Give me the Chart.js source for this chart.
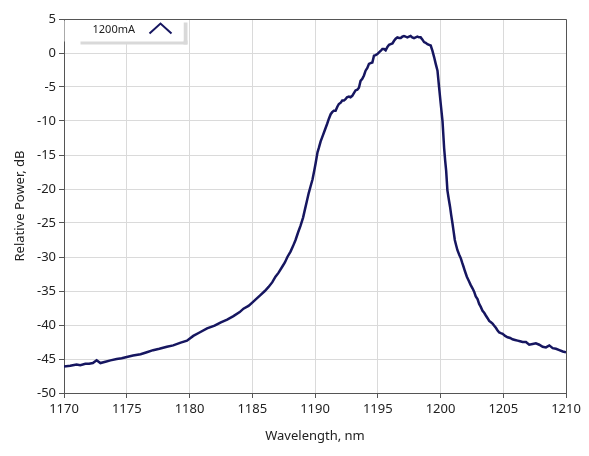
<!DOCTYPE html>
<html>
<head>
<meta charset="utf-8">
<script src="https://cdn.jsdelivr.net/npm/chart.js@4"></script>
<style>
  html, body { margin: 0; padding: 0; background: #fff; }
  #wrap { width: 589px; height: 456px; position: relative; }
</style>
</head>
<body>
<div id="wrap"><canvas id="c" width="589" height="456"></canvas></div>
<script>
const seriesLabel = "1200mA";
const xTitle = "Wavelength, nm";
const yTitle = "Relative Power, dB";
const xTicks = [1170, 1175, 1180, 1185, 1190, 1195, 1200, 1205, 1210];
const yTicks = [-50, -45, -40, -35, -30, -25, -20, -15, -10, -5, 0, 5];

const wavelength = [
  1170.0, 1170.5, 1171.0, 1171.3, 1171.7, 1172.0, 1172.3, 1172.6, 1172.9, 1173.3,
  1173.7, 1174.2, 1174.6, 1175.0, 1175.5, 1176.1, 1176.6, 1177.1, 1177.6, 1178.2,
  1178.7, 1179.3, 1179.8, 1180.3, 1180.8, 1181.4, 1182.0, 1182.5, 1183.0, 1183.5,
  1184.0, 1184.3, 1184.7, 1185.0, 1185.3, 1185.65, 1186.0, 1186.3, 1186.6, 1186.85,
  1187.1, 1187.4, 1187.6, 1187.8, 1188.05, 1188.25, 1188.45, 1188.65, 1188.85, 1189.05,
  1189.2, 1189.35, 1189.5, 1189.65, 1189.8, 1189.95, 1190.05, 1190.2, 1190.3, 1190.45,
  1190.57, 1190.75, 1190.97, 1191.1, 1191.25, 1191.37, 1191.5, 1191.64, 1191.78, 1191.9,
  1192.05, 1192.17, 1192.3, 1192.43, 1192.55, 1192.7, 1192.83, 1192.97, 1193.1, 1193.23,
  1193.37, 1193.5, 1193.63, 1193.77, 1193.9, 1194.03, 1194.17, 1194.3, 1194.43, 1194.57,
  1194.7, 1194.83, 1194.97, 1195.1, 1195.23, 1195.37, 1195.5, 1195.63, 1195.77, 1195.9,
  1196.03, 1196.17, 1196.3, 1196.43, 1196.56, 1196.7, 1196.83, 1196.96, 1197.09, 1197.22,
  1197.36, 1197.49, 1197.62, 1197.75, 1197.89, 1198.02, 1198.16, 1198.29, 1198.42, 1198.55,
  1198.69, 1198.82, 1198.96, 1199.09, 1199.22, 1199.36, 1199.49, 1199.62, 1199.76, 1199.89,
  1200.02, 1200.16, 1200.29, 1200.37, 1200.45, 1200.55, 1200.65, 1200.76, 1200.85, 1200.95,
  1201.05, 1201.14, 1201.25, 1201.35, 1201.5, 1201.62, 1201.72, 1201.83, 1201.95, 1202.1,
  1202.25, 1202.4, 1202.55, 1202.68, 1202.81, 1202.95, 1203.08, 1203.2, 1203.35, 1203.48,
  1203.61, 1203.75, 1203.88, 1204.02, 1204.15, 1204.28, 1204.41, 1204.55, 1204.68, 1204.81,
  1204.95, 1205.15, 1205.35, 1205.55, 1205.74, 1205.94, 1206.14, 1206.34, 1206.54, 1206.81,
  1207.07, 1207.34, 1207.6, 1207.87, 1208.14, 1208.4, 1208.67, 1208.94, 1209.2, 1209.47,
  1209.74, 1210.0
];

const power = [
  -46.1, -46.0, -45.8, -45.9, -45.7, -45.7, -45.6, -45.2, -45.6, -45.4,
  -45.2, -45.0, -44.9, -44.7, -44.5, -44.3, -44.0, -43.7, -43.5, -43.2,
  -43.0, -42.6, -42.3, -41.6, -41.1, -40.5, -40.1, -39.6, -39.2, -38.7,
  -38.1, -37.6, -37.2, -36.7, -36.2, -35.6, -35.0, -34.4, -33.7, -32.9,
  -32.3, -31.4, -30.8, -30.0, -29.2, -28.4, -27.5, -26.4, -25.4, -24.2,
  -23.0, -21.8, -20.6, -19.6, -18.6, -17.2, -16.2, -14.6, -14.0, -13.0,
  -12.4, -11.5, -10.4, -9.7, -9.0, -8.7, -8.5, -8.5, -7.9, -7.5,
  -7.3, -7.0, -7.0, -6.8, -6.5, -6.4, -6.5, -6.3, -5.9, -5.5,
  -5.4, -5.1, -4.1, -3.8, -3.3, -2.6, -2.2, -1.6, -1.5, -1.4,
  -0.4, -0.3, -0.15, 0.1, 0.3, 0.6, 0.6, 0.4, 0.9, 1.2,
  1.3, 1.4, 1.8, 2.1, 2.3, 2.2, 2.2, 2.4, 2.5, 2.4,
  2.3, 2.4, 2.5, 2.3, 2.2, 2.3, 2.4, 2.3, 2.3, 2.0,
  1.6, 1.5, 1.3, 1.2, 1.1, 0.3, -0.6, -1.6, -2.6, -5.1,
  -7.5, -10.0, -14.0, -15.8, -17.3, -20.2, -21.4, -22.6, -23.8, -25.0,
  -26.3, -27.5, -28.3, -29.0, -29.7, -30.2, -30.8, -31.4, -32.1, -32.9,
  -33.5, -34.1, -34.6, -35.1, -35.8, -36.2, -36.9, -37.3, -37.9, -38.2,
  -38.6, -39.0, -39.4, -39.6, -39.8, -40.1, -40.4, -40.8, -41.1, -41.2,
  -41.3, -41.6, -41.8, -41.9, -42.1, -42.2, -42.3, -42.4, -42.5, -42.5,
  -42.9, -42.8, -42.7, -42.9, -43.2, -43.3, -43.0, -43.4, -43.5, -43.7,
  -43.9, -44.0
];

const LINE = '#161660';
const FONT = '"Noto Sans", "DejaVu Sans", sans-serif';

const framePlugin = {
  id: 'frame',
  afterDatasetsDraw(chart) {
    const {ctx, chartArea: a} = chart;
    ctx.save();
    ctx.strokeStyle = '#555';
    ctx.lineWidth = 1;
    ctx.beginPath();
    ctx.moveTo(a.left, a.top + 0.5);
    ctx.lineTo(a.right + 0.5, a.top + 0.5);
    ctx.lineTo(a.right + 0.5, a.bottom);
    ctx.stroke();
    // legend box
    const x0 = a.left + 0.5, y0 = a.top + 0.5, w = 119, h = 21;
    ctx.fillStyle = '#d9d9d9';
    ctx.fillRect(x0 + w, y0 + 3, 4, h + 1);
    ctx.fillRect(x0 + 16, y0 + h, w - 12, 4);
    ctx.fillStyle = '#ffffff';
    ctx.fillRect(x0, y0 + 1, w, h);
    ctx.fillStyle = '#222';
    ctx.font = '11px ' + FONT;
    ctx.textBaseline = 'middle';
    ctx.textAlign = 'left';
    ctx.fillText(chart.data.datasets[0].label, x0 + 28, y0 + 10.5);
    ctx.strokeStyle = LINE;
    ctx.lineWidth = 2;
    ctx.beginPath();
    ctx.moveTo(x0 + 85, y0 + 14);
    ctx.lineTo(x0 + 96, y0 + 4);
    ctx.lineTo(x0 + 107, y0 + 14);
    ctx.stroke();
    ctx.restore();
  }
};

new Chart(document.getElementById('c'), {
  type: 'line',
  data: {
    datasets: [{
      label: seriesLabel,
      data: wavelength.map((x, i) => ({x: x, y: power[i]})),
      borderColor: LINE,
      borderWidth: 2.5,
      pointRadius: 0,
      tension: 0,
      fill: false
    }]
  },
  options: {
    responsive: false,
    animation: false,
    events: [],
    layout: { padding: { left: 0, top: 19, right: 23, bottom: 0 } },
    plugins: { legend: { display: false }, tooltip: { enabled: false } },
    scales: {
      x: {
        type: 'linear',
        min: xTicks[0],
        max: xTicks[xTicks.length - 1],
        afterFit(s) { s.height = 63; },
        afterBuildTicks(s) { s.ticks = xTicks.map(v => ({value: v})); },
        ticks: { color: '#222', font: { family: FONT, size: 13 }, padding: 3, maxRotation: 0, autoSkip: false,
                 callback: v => String(v) },
        grid: { color: '#dadada', tickColor: '#555', tickLength: 5, lineWidth: 1 },
        border: { color: '#555', width: 1 },
        title: { display: true, text: xTitle, color: '#222', font: { family: FONT, size: 13 }, padding: { top: 0, bottom: 12 } }
      },
      y: {
        type: 'linear',
        min: yTicks[0],
        max: yTicks[yTicks.length - 1],
        afterFit(s) { s.width = 64; },
        afterBuildTicks(s) { s.ticks = yTicks.map(v => ({value: v})); },
        ticks: { color: '#222', font: { family: FONT, size: 13 }, padding: 3, autoSkip: false,
                 callback: v => String(v) },
        grid: { color: '#dadada', tickColor: '#555', tickLength: 5, lineWidth: 1 },
        border: { color: '#555', width: 1 },
        title: { display: true, text: yTitle, color: '#222', font: { family: FONT, size: 13 }, padding: { top: 12, bottom: 0 } }
      }
    }
  },
  plugins: [framePlugin]
});
</script>
</body>
</html>
